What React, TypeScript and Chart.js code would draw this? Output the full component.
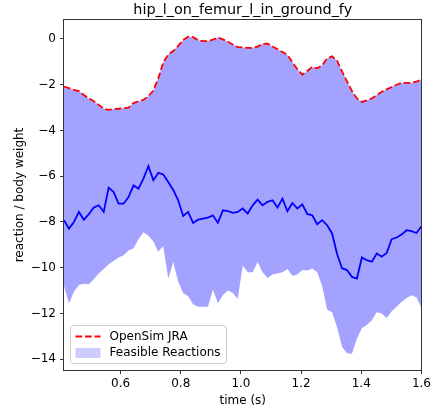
import React, { useEffect, useRef } from "react";
import { Chart, registerables } from "chart.js";

Chart.register(...registerables);

const TITLE = "hip_l_on_femur_l_in_ground_fy";
const X_LABEL = "time (s)";
const Y_LABEL = "reaction / body weight";
const LEGEND_JRA = "OpenSim JRA";
const LEGEND_FEASIBLE = "Feasible Reactions";

const times = [
  0.412, 0.4285, 0.445, 0.4615, 0.478, 0.4945, 0.511, 0.5275, 0.544, 0.5605,
  0.577, 0.5935, 0.61, 0.6265, 0.643, 0.6595, 0.676, 0.6925, 0.709, 0.7255,
  0.742, 0.7585, 0.775, 0.7915, 0.808, 0.8245, 0.841, 0.8575, 0.874, 0.8905,
  0.907, 0.9235, 0.94, 0.9565, 0.973, 0.9895, 1.006, 1.0225, 1.039, 1.0555,
  1.072, 1.0885, 1.105, 1.1215, 1.138, 1.1545, 1.171, 1.1875, 1.204, 1.2205,
  1.237, 1.2535, 1.27, 1.2865, 1.303, 1.3195, 1.336, 1.3525, 1.369, 1.3855,
  1.402, 1.4185, 1.435, 1.4515, 1.468, 1.4845, 1.501, 1.5175, 1.534, 1.5505,
  1.567, 1.5835, 1.6,
];

const openSimJRA = [
  -2.08, -2.15, -2.22, -2.28, -2.45, -2.6, -2.72, -2.88, -3.05, -3.1,
  -3.06, -3.05, -3.03, -3.0, -2.8, -2.72, -2.66, -2.5, -2.25, -1.72,
  -1.02, -0.68, -0.53, -0.3, -0.05, 0.1, 0.08, -0.05, -0.09, -0.09,
  -0.03, 0.06, -0.02, -0.12, -0.24, -0.36, -0.37, -0.39, -0.39, -0.33,
  -0.22, -0.2, -0.33, -0.45, -0.57, -0.7, -1.02, -1.32, -1.56, -1.4,
  -1.22, -1.28, -1.15, -0.85, -0.76, -0.95, -1.42, -1.85, -2.27, -2.6,
  -2.75, -2.68, -2.6, -2.45, -2.31, -2.2, -2.1, -2.0, -1.92, -1.92,
  -1.92, -1.86, -1.78,
];

const feasibleLower = [
  -10.8, -11.55, -11.05, -10.75, -10.7, -10.72, -10.5, -10.25, -10.05, -9.85,
  -9.7, -9.55, -9.45, -9.25, -9.15, -8.75, -8.45, -8.6, -8.85, -9.3,
  -9.05, -10.48, -9.75, -10.6, -11.1, -11.25, -11.6, -11.7, -11.7, -11.7,
  -10.95, -11.55, -11.2, -11.0, -11.1, -11.35, -9.9, -10.2, -10.2, -9.75,
  -10.2, -10.45, -10.3, -10.25, -10.2, -10.05, -10.35, -10.3, -10.1, -10.12,
  -10.03, -10.2, -10.8, -11.83, -11.95, -12.6, -13.45, -13.74, -13.76, -13.1,
  -12.65, -12.5, -12.3, -11.95, -12.0, -12.2, -11.9, -11.7, -11.5, -11.32,
  -11.2, -11.3, -11.75,
];

const solution = [
  -7.92, -8.29, -8.0, -7.56, -7.9, -7.66, -7.37, -7.27, -7.56, -6.5,
  -6.69, -7.2, -7.2, -6.91, -6.4, -6.54, -6.1, -5.56, -6.18, -5.85,
  -5.92, -6.25, -6.6, -7.05, -7.74, -7.56, -8.04, -7.9, -7.85, -7.81,
  -7.71, -8.04, -7.49, -7.52, -7.6, -7.56, -7.41, -7.63, -7.27, -7.02,
  -7.27, -7.12, -7.05, -7.37, -6.98, -7.53, -7.17, -7.41, -7.23, -7.65,
  -7.71, -8.1, -7.92, -8.14, -8.5, -9.4, -10.02, -10.1, -10.4, -10.47,
  -9.55, -9.67, -9.74, -9.38, -9.52, -9.35, -8.75, -8.68, -8.55, -8.36,
  -8.4, -8.48, -8.19,
];

const xTicks = [0.6, 0.8, 1.0, 1.2, 1.4, 1.6];
const yTicks = [-14, -12, -10, -8, -6, -4, -2, 0];
const yMin = -14.47;
const yMax = 0.83;

const FONT = '"DejaVu Sans", "Liberation Sans", sans-serif';
const FILL = "rgba(0,0,255,0.36)";
const FILL_LEGEND = "rgba(0,0,255,0.2)";

const pts = (ys: number[]) => times.map((t, i) => ({ x: t, y: ys[i] }));

const decorPlugin = {
  id: "decor",
  afterDraw(chart: any) {
    const { ctx, chartArea: a } = chart;
    ctx.save();
    // frame
    ctx.strokeStyle = "#333";
    ctx.lineWidth = 1;
    ctx.strokeRect(
      Math.round(a.left) - 0.5,
      Math.round(a.top) - 0.5,
      Math.round(a.right - a.left) + 1,
      Math.round(a.bottom - a.top) + 1
    );
    const cx = (a.left + a.right) / 2;
    ctx.fillStyle = "#000";
    ctx.textAlign = "center";
    ctx.textBaseline = "middle";
    ctx.font = `14.4px ${FONT}`;
    ctx.fillText(TITLE, cx, 10);
    ctx.font = `12px ${FONT}`;
    ctx.fillText(X_LABEL, cx, 401);
    ctx.save();
    ctx.translate(20, (a.top + a.bottom) / 2);
    ctx.rotate(-Math.PI / 2);
    ctx.fillText(Y_LABEL, 0, 0);
    ctx.restore();

    // legend
    const lx = a.left + 6.5;
    const ly = 325.5;
    const lw = 156;
    const lh = 38;
    const r = 3;
    ctx.beginPath();
    ctx.moveTo(lx + r, ly);
    ctx.lineTo(lx + lw - r, ly);
    ctx.quadraticCurveTo(lx + lw, ly, lx + lw, ly + r);
    ctx.lineTo(lx + lw, ly + lh - r);
    ctx.quadraticCurveTo(lx + lw, ly + lh, lx + lw - r, ly + lh);
    ctx.lineTo(lx + r, ly + lh);
    ctx.quadraticCurveTo(lx, ly + lh, lx, ly + lh - r);
    ctx.lineTo(lx, ly + r);
    ctx.quadraticCurveTo(lx, ly, lx + r, ly);
    ctx.closePath();
    ctx.fillStyle = "rgba(255,255,255,0.8)";
    ctx.fill();
    ctx.strokeStyle = "#cccccc";
    ctx.lineWidth = 1;
    ctx.stroke();

    const hx = lx + 5;
    ctx.strokeStyle = "#ff0000";
    ctx.lineWidth = 1.8;
    ctx.setLineDash([6.66, 2.88]);
    ctx.beginPath();
    ctx.moveTo(hx, 336.5);
    ctx.lineTo(hx + 25, 336.5);
    ctx.stroke();
    ctx.setLineDash([]);
    ctx.fillStyle = FILL_LEGEND;
    ctx.fillRect(hx, 348, 25, 10);

    ctx.fillStyle = "#000";
    ctx.textAlign = "left";
    ctx.textBaseline = "middle";
    ctx.font = `12px ${FONT}`;
    ctx.fillText(LEGEND_JRA, hx + 34, 337);
    ctx.fillText(LEGEND_FEASIBLE, hx + 34, 353);
    ctx.restore();
  },
};

export default function App() {
  const ref = useRef<HTMLCanvasElement | null>(null);
  useEffect(() => {
    if (!ref.current) return;
    const chart = new Chart(ref.current, {
      type: "line",
      data: {
        datasets: [
          {
            label: "lower",
            data: pts(feasibleLower),
            borderWidth: 0,
            pointRadius: 0,
            fill: false,
            order: 3,
          },
          {
            label: LEGEND_FEASIBLE,
            data: pts(openSimJRA),
            borderWidth: 0,
            pointRadius: 0,
            backgroundColor: FILL,
            fill: "-1",
            order: 2,
          },
          {
            label: LEGEND_JRA,
            data: pts(openSimJRA),
            borderColor: "#ff0000",
            borderWidth: 1.8,
            borderDash: [6.66, 2.88],
            pointRadius: 0,
            fill: false,
            order: 1,
          },
          {
            label: "solution",
            data: pts(solution),
            borderColor: "#0000ff",
            borderWidth: 1.8,
            pointRadius: 0,
            fill: false,
            order: 0,
          },
        ],
      },
      options: {
        responsive: false,
        animation: false,
        layout: { padding: { top: 20, right: 11, left: 0, bottom: 0 } },
        plugins: {
          legend: { display: false },
          title: { display: false },
          tooltip: { enabled: false },
        },
        elements: { line: { tension: 0 } },
        scales: {
          x: {
            type: "linear",
            min: times[0],
            max: times[times.length - 1],
            afterBuildTicks: (s: any) => {
              s.ticks = xTicks.map((v) => ({ value: v }));
            },
            afterFit: (s: any) => {
              s.height = 41;
            },
            grid: {
              drawOnChartArea: false,
              drawTicks: true,
              tickLength: 4,
              color: "#333",
            },
            border: { display: false },
            ticks: {
              color: "#000",
              padding: 3,
              maxRotation: 0,
              autoSkip: false,
              font: { family: FONT, size: 12 },
              callback: (v: any) => Number(v).toFixed(1),
            },
          },
          y: {
            type: "linear",
            min: yMin,
            max: yMax,
            afterBuildTicks: (s: any) => {
              s.ticks = yTicks.map((v) => ({ value: v }));
            },
            afterFit: (s: any) => {
              s.width = 64;
            },
            grid: {
              drawOnChartArea: false,
              drawTicks: true,
              tickLength: 4,
              color: "#333",
            },
            border: { display: false },
            ticks: {
              color: "#000",
              padding: 4,
              autoSkip: false,
              font: { family: FONT, size: 12 },
              callback: (v: any) => {
                const n = Number(v);
                return (n < 0 ? "\u2212" : "") + Math.abs(n);
              },
            },
          },
        },
      },
      plugins: [decorPlugin],
    } as any);
    return () => chart.destroy();
  }, []);
  return (
    <div style={{ position: "absolute", left: 0, top: 0, width: 434, height: 411, background: "#fff" }}>
      <canvas ref={ref} width={434} height={411} style={{ width: 434, height: 411 }} />
    </div>
  );
}
